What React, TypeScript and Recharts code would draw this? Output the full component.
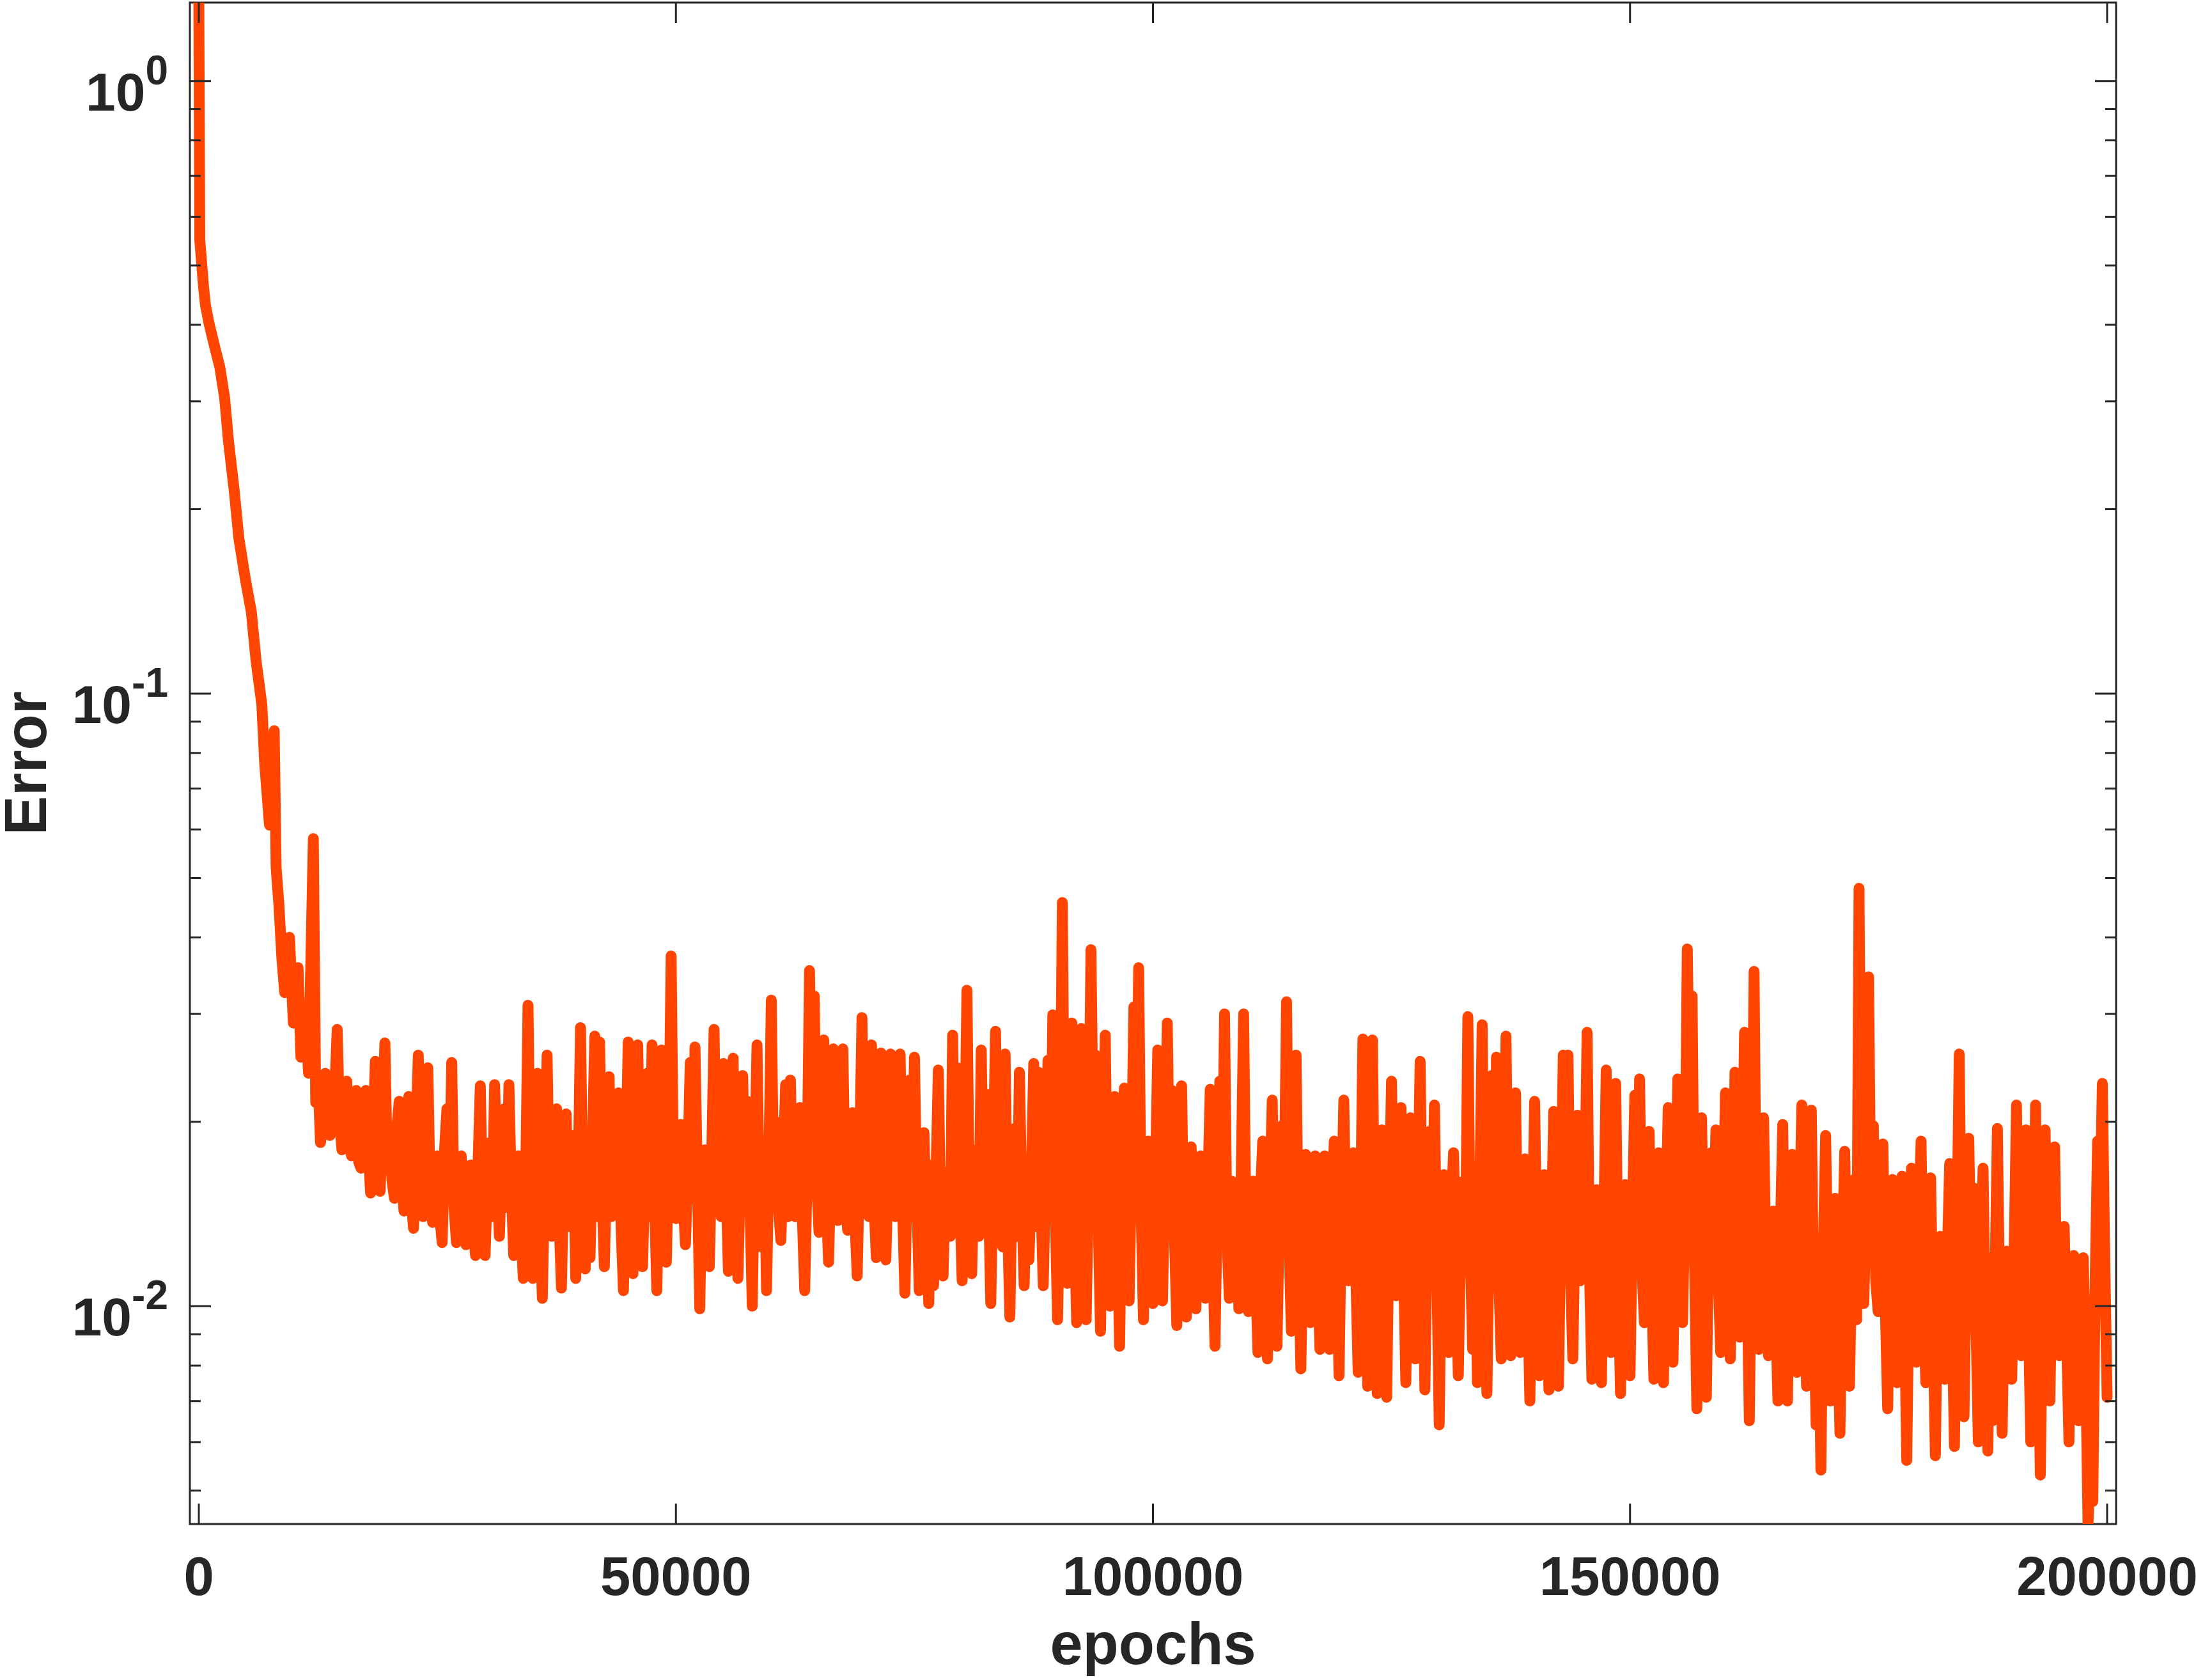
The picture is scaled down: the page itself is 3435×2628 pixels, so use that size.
import { LineChart, Line, XAxis, YAxis, ReferenceArea, Label } from 'recharts'

const WIDTH = 3435
const HEIGHT = 2628
const PLOT_TOP = 4
const PLOT_RIGHT = 3310
const INK = '#262626'
const ORANGE = '#ff4500'
const FONT = '"Liberation Sans", Arial, Helvetica, sans-serif'

const X_MIN = -940
const X_MAX = 200940
const Y_MIN = 0.00441
const Y_MAX = 1.343

const xTicks = [0, 50000, 100000, 150000, 200000]
const yMajor = [0.01, 0.1, 1]
const yExponent = ['-2', '-1', '0']
const yMinor = [
  0.005, 0.006, 0.007, 0.008, 0.009,
  0.02, 0.03, 0.04, 0.05, 0.06, 0.07, 0.08, 0.09,
  0.2, 0.3, 0.4, 0.5, 0.6, 0.7, 0.8, 0.9,
]

// first part of the run, read at uneven epochs
const earlyEpochs = [
  0, 100, 500, 700, 1100, 1700, 2200, 2700, 3100, 3700,
  4200, 4900, 5500, 6000, 6600, 6900, 7400, 7900, 8100, 8400,
  8700, 9000, 9500, 9900, 10400, 10700, 11200, 11500,
]
const earlyError = [
  1.343, 0.55, 0.46, 0.43, 0.40, 0.366, 0.341, 0.304, 0.259, 0.215,
  0.179, 0.153, 0.136, 0.113, 0.096, 0.077, 0.061, 0.087, 0.052, 0.045,
  0.037, 0.0325, 0.040, 0.029, 0.0357, 0.0255, 0.029, 0.024,
]

// after that the error is logged every 250 epochs
const LOG_STEP = 250

const err12k = [
  0.058, 0.0215, 0.0233, 0.0185, 0.020, 0.0240, 0.0233, 0.0190, 0.020, 0.0225,
  0.0283, 0.0200, 0.018, 0.0215, 0.0233, 0.0185, 0.0176, 0.0205, 0.0225, 0.0172,
  0.0168, 0.0210, 0.0225, 0.0180, 0.0153, 0.0190, 0.0251, 0.0172, 0.0154, 0.0200,
  0.0269, 0.0170, 0.0185, 0.0160, 0.015, 0.0195, 0.0216, 0.0162, 0.0143, 0.0180,
  0.022, 0.0150, 0.0134, 0.0190, 0.0257, 0.0158, 0.014, 0.0175, 0.0245, 0.0150,
  0.0137, 0.0168, 0.0176, 0.0140, 0.0127, 0.0180, 0.021, 0.0150, 0.025, 0.0145,
  0.0127, 0.0165, 0.0176, 0.0138, 0.0126, 0.0160, 0.017, 0.0135, 0.0121, 0.0168,
  0.0229, 0.0142, 0.0121, 0.0160, 0.0185, 0.0140, 0.023, 0.0162, 0.013, 0.0175,
  0.021, 0.0145, 0.023, 0.0155, 0.0121, 0.0170, 0.0176, 0.0135, 0.0111, 0.0160,
  0.031, 0.0150, 0.0111, 0.0175, 0.024, 0.0140, 0.0103, 0.0165, 0.0257, 0.0145,
  0.013, 0.0170, 0.021, 0.0140, 0.0107, 0.0165,
]

const err38k = [
  0.0206, 0.0135, 0.0150, 0.0190, 0.0111, 0.0160, 0.0285, 0.0150, 0.0115, 0.0170,
  0.0120, 0.0185, 0.0276, 0.0140, 0.027, 0.0155, 0.0116, 0.0175, 0.0237, 0.0140,
  0.0150, 0.0180, 0.0223, 0.0135, 0.0106, 0.0170, 0.027, 0.0150, 0.0113, 0.0180,
  0.0267, 0.0145, 0.0116, 0.0165, 0.024, 0.0140, 0.0267, 0.0150, 0.0106, 0.0175,
  0.0262, 0.0145, 0.0118, 0.0180, 0.0373, 0.0160, 0.0139, 0.0175, 0.0198, 0.0150,
  0.0126, 0.0170, 0.025, 0.0150, 0.0265, 0.0160, 0.0099, 0.0170, 0.018, 0.0135,
  0.0116, 0.0175, 0.0283, 0.0150, 0.020, 0.0140, 0.0249, 0.0160, 0.0114, 0.0175,
  0.0254, 0.0140, 0.0111, 0.0165, 0.0238, 0.0145, 0.0216, 0.0150, 0.0100, 0.0170,
  0.0267, 0.0145, 0.0125, 0.0180, 0.0106, 0.0175, 0.0316, 0.0150, 0.0200, 0.0145,
  0.0128, 0.0170, 0.023, 0.0140, 0.0234, 0.0155, 0.0140, 0.0175, 0.0211, 0.0140,
  0.0106, 0.0165, 0.0353, 0.0190, 0.0321, 0.0160, 0.0132, 0.0175, 0.0272, 0.0150,
  0.0118, 0.0170, 0.0263, 0.0145, 0.0138, 0.0180, 0.0263, 0.0150, 0.0133, 0.0165,
  0.0207, 0.0140, 0.0112, 0.0175, 0.0296, 0.0150, 0.0160, 0.0140, 0.0267, 0.0150,
  0.0120, 0.0175, 0.0259, 0.0140,
]

const err72k = [
  0.0119, 0.0170, 0.0258, 0.0150, 0.0140, 0.0175, 0.0258, 0.0145, 0.0105, 0.0165,
  0.0234, 0.0140, 0.0255, 0.0150, 0.0106, 0.0160, 0.0192, 0.0135, 0.0101, 0.0170,
  0.0108, 0.0160, 0.0243, 0.0140, 0.0112, 0.0165, 0.0160, 0.0130, 0.0277, 0.0145,
  0.0245, 0.0150, 0.0110, 0.0170, 0.0328, 0.0150, 0.0113, 0.0165, 0.0180, 0.0130,
  0.0262, 0.0140, 0.0222, 0.0155, 0.0101, 0.0170, 0.0281, 0.0145, 0.0150, 0.0125,
  0.0258, 0.0140, 0.0096, 0.0165, 0.0195, 0.0130, 0.0241, 0.0150, 0.0108, 0.0170,
  0.0119, 0.0160, 0.0249, 0.0135, 0.0241, 0.0150, 0.0108, 0.0165, 0.0252, 0.0140,
  0.0299, 0.0145, 0.0095, 0.0160, 0.0456, 0.0150, 0.0109, 0.0170, 0.0290, 0.0140,
  0.0094, 0.0160, 0.0284, 0.0135, 0.0095, 0.0165, 0.0382, 0.0180, 0.0257, 0.0140,
  0.0091, 0.0160, 0.0277, 0.0130, 0.0100, 0.0165, 0.0220, 0.0135, 0.0086, 0.0160,
  0.0227, 0.0130, 0.0102, 0.0170, 0.0308, 0.0170, 0.0357, 0.0145, 0.0095, 0.0155,
  0.0186, 0.0125, 0.0101, 0.0160, 0.0262, 0.0135, 0.0102, 0.0165, 0.0290, 0.0150,
  0.0225, 0.0130, 0.0093, 0.0160, 0.0229, 0.0125, 0.0096, 0.0150, 0.0182, 0.0130,
]

const err104k = [
  0.0099, 0.0150, 0.0176, 0.0120, 0.0103, 0.0155, 0.0226, 0.0125, 0.0086, 0.0150,
  0.0233, 0.0140, 0.0300, 0.0130, 0.0103, 0.0160, 0.0125, 0.0145, 0.0099, 0.0165,
  0.0300, 0.0130, 0.0098, 0.0145, 0.0160, 0.0115, 0.0084, 0.0150, 0.0186, 0.0120,
  0.0082, 0.0150, 0.0217, 0.0125, 0.0086, 0.0145, 0.0197, 0.0150, 0.0314, 0.0130,
  0.0091, 0.0150, 0.0257, 0.0120, 0.0079, 0.0140, 0.0177, 0.0115, 0.0094, 0.0145,
  0.0176, 0.0115, 0.0085, 0.0140, 0.0176, 0.0120, 0.0085, 0.0145, 0.0186, 0.0115,
  0.0077, 0.0140, 0.0217, 0.0125, 0.0110, 0.0150, 0.0178, 0.0115, 0.0078, 0.0140,
  0.0273, 0.0125, 0.0074, 0.0150, 0.0272, 0.0120, 0.0072, 0.0140, 0.0194, 0.0115,
  0.0071, 0.0145, 0.0233, 0.0125, 0.0104, 0.0150, 0.0211, 0.0120, 0.0075, 0.0140,
  0.0203, 0.0115, 0.0082, 0.0145, 0.0251, 0.0120, 0.0073, 0.0140, 0.0193, 0.0130,
  0.0213, 0.0115, 0.0064, 0.0135, 0.0164, 0.0110, 0.0084, 0.0140, 0.0178, 0.0115,
  0.0077, 0.0130, 0.0160, 0.0120, 0.0297, 0.0125, 0.0085, 0.0140, 0.0075, 0.0150,
  0.0288, 0.0115, 0.0072, 0.0140, 0.0238, 0.0125, 0.0255, 0.0110, 0.0082, 0.0145,
  0.0276, 0.0120,
]

const err137k = [
  0.0083, 0.0140, 0.0223, 0.0115, 0.0084, 0.0135, 0.0174, 0.0110, 0.0070, 0.0130,
  0.0216, 0.0115, 0.0077, 0.0135, 0.0164, 0.0105, 0.0073, 0.0130, 0.0208, 0.0110,
  0.0074, 0.0140, 0.0257, 0.0150, 0.0257, 0.0115, 0.0082, 0.0140, 0.0205, 0.0110,
  0.0120, 0.0150, 0.0280, 0.0115, 0.0076, 0.0130, 0.0155, 0.0105, 0.0075, 0.0135,
  0.0243, 0.0115, 0.0084, 0.0140, 0.0231, 0.0110, 0.0072, 0.0130, 0.0158, 0.0105,
  0.0077, 0.0140, 0.0221, 0.0125, 0.0235, 0.0115, 0.0094, 0.0145, 0.0193, 0.0110,
  0.0076, 0.0130, 0.0178, 0.0110, 0.0075, 0.0135, 0.0211, 0.0115, 0.0081, 0.0140,
  0.0235, 0.0120, 0.0094, 0.0150, 0.0383, 0.0200, 0.0321, 0.0120, 0.0068, 0.0130,
  0.0203, 0.0110, 0.0071, 0.0135, 0.0178, 0.0125, 0.0194, 0.0110, 0.0084, 0.0140,
  0.0223, 0.0115, 0.0082, 0.0135, 0.0241, 0.0120, 0.0089, 0.0150, 0.0280, 0.0115,
  0.0065, 0.0140, 0.0352, 0.0120, 0.0085, 0.0140, 0.0203, 0.0110, 0.0083, 0.0125,
  0.0143, 0.0100, 0.0070, 0.0130, 0.0198, 0.0105, 0.0070, 0.0125, 0.0177, 0.0100,
  0.0078, 0.0130, 0.0213, 0.0105, 0.0074, 0.0125, 0.0209, 0.0100, 0.0064, 0.0110,
  0.0054, 0.0120,
]

const err170k = [
  0.0190, 0.0105, 0.0070, 0.0125, 0.0150, 0.0095, 0.0062, 0.0120, 0.0179, 0.0100,
  0.0074, 0.0125, 0.0161, 0.0095, 0.0481, 0.0120, 0.0101, 0.0150, 0.0345, 0.0130,
  0.0197, 0.0110, 0.0098, 0.0135, 0.0184, 0.0100, 0.0068, 0.0120, 0.0161, 0.0095,
  0.0075, 0.0125, 0.0163, 0.0100, 0.0056, 0.0115, 0.0168, 0.0105, 0.0081, 0.0130,
  0.0186, 0.0100, 0.0075, 0.0120, 0.0162, 0.0095, 0.0057, 0.0115, 0.0130, 0.0090,
  0.0076, 0.0120, 0.0171, 0.0095, 0.0059, 0.0125, 0.0258, 0.0105, 0.0066, 0.0120,
  0.0188, 0.0110, 0.0156, 0.0095, 0.0060, 0.0115, 0.0168, 0.0090, 0.0058, 0.0120,
  0.0065, 0.0110, 0.0195, 0.0095, 0.0062, 0.0115, 0.0123, 0.0090, 0.0076, 0.0120,
  0.0213, 0.0100, 0.0083, 0.0125, 0.0194, 0.0095, 0.0060, 0.0115, 0.0213, 0.0095,
  0.0053, 0.0110, 0.0194, 0.0100, 0.0070, 0.0120, 0.0182, 0.0095, 0.0083, 0.0115,
  0.0135, 0.0090, 0.0060, 0.0110, 0.0121, 0.0085, 0.0065, 0.0105, 0.0120, 0.0080,
  0.0044, 0.0060, 0.0048, 0.0110, 0.0186, 0.0140, 0.0231, 0.0120, 0.0071,
]

const segments = [
  { start: 12000, values: err12k },
  { start: 38500, values: err38k },
  { start: 72000, values: err72k },
  { start: 104500, values: err104k },
  { start: 137500, values: err137k },
  { start: 170500, values: err170k },
]

const data = [
  ...earlyEpochs.map((epoch, i) => ({ epoch, error: earlyError[i] })),
  ...segments.flatMap(s => s.values.map((error, i) => ({ epoch: s.start + i * LOG_STEP, error }))),
]

const textProps = { fill: INK, fontFamily: FONT, fontWeight: 700 }

// tick marks point inward and are repeated on the right edge (box on)
function YTick({ x, y, payload }: any) {
  const idx = yMajor.indexOf(payload.value)
  const len = idx >= 0 ? 33 : 17
  return (
    <g>
      <line x1={x} x2={x + len} y1={y} y2={y} stroke={INK} strokeWidth={3} />
      <line x1={PLOT_RIGHT - len} x2={PLOT_RIGHT} y1={y} y2={y} stroke={INK} strokeWidth={3} />
      {idx >= 0 && (
        <text x={x - 34} y={y + 46} textAnchor="end" fontSize={84} {...textProps}>
          10<tspan dy={-41} fontSize={64}>{yExponent[idx]}</tspan>
        </text>
      )}
    </g>
  )
}

function XTick({ x, y, payload }: any) {
  return (
    <g>
      <line x1={x} x2={x} y1={y} y2={y - 32} stroke={INK} strokeWidth={3} />
      <line x1={x} x2={x} y1={PLOT_TOP} y2={PLOT_TOP + 32} stroke={INK} strokeWidth={3} />
      <text x={x} y={y + 111} textAnchor="middle" fontSize={85} {...textProps}>
        {payload.value}
      </text>
    </g>
  )
}

export default function App() {
  return (
    <div style={{ position: 'absolute', left: 0, top: 0, width: WIDTH, height: HEIGHT, background: '#fff' }}>
      <LineChart width={WIDTH} height={HEIGHT} data={data} margin={{ top: PLOT_TOP, right: WIDTH - PLOT_RIGHT, bottom: 0, left: 0 }}>
        <XAxis
          dataKey="epoch"
          type="number"
          domain={[X_MIN, X_MAX]}
          ticks={xTicks}
          interval={0}
          height={244}
          tickSize={0}
          tickMargin={0}
          tickLine={false}
          axisLine={false}
          tick={XTick}
        >
          <Label
            content={({ viewBox }: any) => (
              <text x={viewBox.x + viewBox.width / 2} y={viewBox.y + viewBox.height - 25} textAnchor="middle" fontSize={92} {...textProps}>
                epochs
              </text>
            )}
          />
        </XAxis>
        <YAxis
          dataKey="error"
          type="number"
          scale="log"
          domain={[Y_MIN, Y_MAX]}
          allowDataOverflow
          ticks={[...yMinor, ...yMajor].sort((a, b) => a - b)}
          interval={0}
          width={297}
          tickSize={0}
          tickMargin={0}
          tickLine={false}
          axisLine={false}
          tick={YTick}
        >
          <Label
            content={({ viewBox }: any) => (
              <text
                transform={`translate(72, ${viewBox.y + viewBox.height / 2}) rotate(-90)`}
                textAnchor="middle"
                fontSize={92}
                {...textProps}
              >
                Error
              </text>
            )}
          />
        </YAxis>
        <ReferenceArea x1={X_MIN} x2={X_MAX} y1={Y_MIN} y2={Y_MAX} fill="none" fillOpacity={0} stroke={INK} strokeWidth={3} />
        <Line
          type="linear"
          dataKey="error"
          stroke={ORANGE}
          strokeWidth={17}
          strokeLinejoin="round"
          strokeLinecap="round"
          dot={false}
          isAnimationActive={false}
        />
      </LineChart>
    </div>
  )
}
